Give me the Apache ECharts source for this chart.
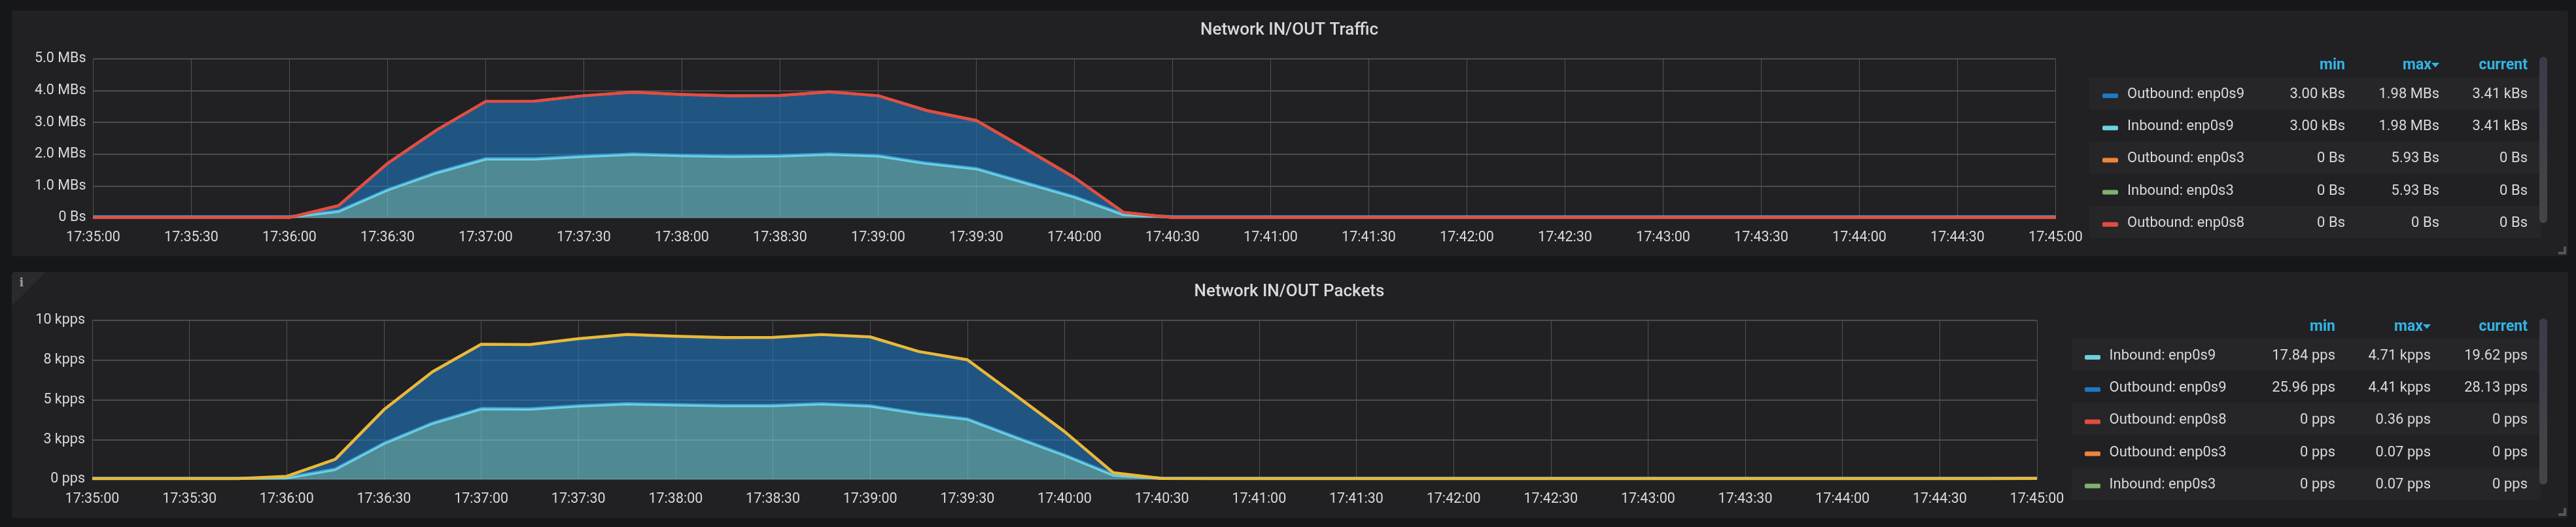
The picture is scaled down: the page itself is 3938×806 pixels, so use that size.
<!DOCTYPE html>
<html><head><meta charset="utf-8">
<style>html,body{margin:0;padding:0;background:#161719}#c{width:3938px;height:806px}</style>
<script src="https://cdn.jsdelivr.net/npm/echarts@6/dist/echarts.min.js"></script>
</head><body><div id="c"></div>
<script>
const categories=["17:35:00","17:35:15","17:35:30","17:35:45","17:36:00","17:36:15","17:36:30","17:36:45","17:37:00","17:37:15","17:37:30","17:37:45","17:38:00","17:38:15","17:38:30","17:38:45","17:39:00","17:39:15","17:39:30","17:39:45","17:40:00","17:40:15","17:40:30","17:40:45","17:41:00","17:41:15","17:41:30","17:41:45","17:42:00","17:42:15","17:42:30","17:42:45","17:43:00","17:43:15","17:43:30","17:43:45","17:44:00","17:44:15","17:44:30","17:44:45","17:45:00"];
// traffic, MBs
const trafficInS9=[0.003,0.003,0.003,0.003,0.004,0.185,0.855,1.40,1.83,1.83,1.915,1.98,1.94,1.915,1.93,1.98,1.93,1.69,1.525,1.08,0.636,0.082,0.003,0.003,0.003,0.003,0.003,0.003,0.003,0.003,0.003,0.003,0.003,0.003,0.003,0.003,0.003,0.003,0.003,0.003,0.003];
const trafficOutS9=[0.003,0.003,0.003,0.003,0.004,0.195,0.855,1.36,1.83,1.84,1.925,1.97,1.94,1.925,1.92,1.98,1.91,1.68,1.535,1.09,0.629,0.088,0.003,0.003,0.003,0.003,0.003,0.003,0.003,0.003,0.003,0.003,0.003,0.003,0.003,0.003,0.003,0.003,0.003,0.003,0.003];
const trafficOutS3=[0,0,0,0,0,0,0,0,0,0,0,0,0,0,0,0,0,0,0,0,0,0,0,0,0,0,0,0,0,0,0,0,0,0,0,0,0,0,0,0,0];
const trafficInS3=[0,0,0,0,0,0,0,0,0,0,0,0,0,0,0,0,0,0,0,0,0,0,0,0,0,0,0,0,0,0,0,0,0,0,0,0,0,0,0,0,0];
const trafficOutS8=[0,0,0,0,0,0,0,0,0,0,0,0,0,0,0,0,0,0,0,0,0,0,0,0,0,0,0,0,0,0,0,0,0,0,0,0,0,0,0,0,0];
// packets, kpps
const packetsInS9=[0.018,0.018,0.018,0.018,0.05,0.59,2.22,3.49,4.40,4.38,4.58,4.71,4.65,4.60,4.60,4.71,4.58,4.10,3.75,2.60,1.48,0.23,0.02,0.018,0.018,0.018,0.018,0.018,0.018,0.018,0.018,0.018,0.018,0.018,0.018,0.018,0.018,0.018,0.018,0.018,0.02];
const packetsOutS9=[0.026,0.026,0.026,0.026,0.14,0.67,2.16,3.28,4.10,4.10,4.27,4.41,4.35,4.32,4.33,4.40,4.38,3.94,3.77,2.67,1.52,0.18,0.035,0.026,0.026,0.026,0.026,0.026,0.026,0.026,0.026,0.026,0.026,0.026,0.026,0.026,0.026,0.026,0.026,0.026,0.028];
const packetsOutS8=[0,0,0,0,0,0,0,0,0,0,0,0,0,0,0,0,0,0,0,0,0,0,0,0,0,0,0,0,0,0,0,0,0,0,0,0,0,0,0,0,0];
const packetsOutS3=[0,0,0,0,0,0,0,0,0,0,0,0,0,0,0,0,0,0,0,0,0,0,0,0,0,0,0,0,0,0,0,0,0,0,0,0,0,0,0,0,0];
const packetsInS3=[0,0,0,0,0,0,0,0,0,0,0,0,0,0,0,0,0,0,0,0,0,0,0,0,0,0,0,0,0,0,0,0,0,0,0,0,0,0,0,0,0];
const packetsInS8=[0,0,0,0,0,0,0,0,0,0,0,0,0,0,0,0,0,0,0,0,0,0,0,0,0,0,0,0,0,0,0,0,0,0,0,0,0,0,0,0,0];
const trafficTicks={0:"0 Bs",1:"1.0 MBs",2:"2.0 MBs",3:"3.0 MBs",4:"4.0 MBs",5:"5.0 MBs"};
const packetTicks={0:"0 pps",2.5:"3 kpps",5:"5 kpps",7.5:"8 kpps",10:"10 kpps"};
const C={blue:"#1F78C1",cyan:"#6ED0E0",orange:"#EF843C",green:"#7EB26D",red:"#E24D42",yellow:"#EAB839"};
const trafficRows=[["Outbound: enp0s9","3.00 kBs","1.98 MBs","3.41 kBs",C.blue],["Inbound: enp0s9","3.00 kBs","1.98 MBs","3.41 kBs",C.cyan],["Outbound: enp0s3","0 Bs","5.93 Bs","0 Bs",C.orange],["Inbound: enp0s3","0 Bs","5.93 Bs","0 Bs",C.green],["Outbound: enp0s8","0 Bs","0 Bs","0 Bs",C.red]];
const packetRows=[["Inbound: enp0s9","17.84 pps","4.71 kpps","19.62 pps",C.cyan],["Outbound: enp0s9","25.96 pps","4.41 kpps","28.13 pps",C.blue],["Outbound: enp0s8","0 pps","0.36 pps","0 pps",C.red],["Outbound: enp0s3","0 pps","0.07 pps","0 pps",C.orange],["Inbound: enp0s3","0 pps","0.07 pps","0 pps",C.green]];

const FONT="Roboto";
const alpha=(h,a)=>{const n=parseInt(h.slice(1),16);return `rgba(${n>>16},${(n>>8)&255},${n&255},${a})`};
function ser(name,data,color,ax,stack,lw,fill,edge,edgeY){
  return {name,type:'line',data,xAxisIndex:ax,yAxisIndex:ax,stack,symbol:'none',clip:false,silent:true,animation:false,
    lineStyle:Object.assign({color,width:lw,join:'round',opacity:1},edge?{shadowColor:edge,shadowBlur:0,shadowOffsetY:edgeY}:{}),itemStyle:{color},
    areaStyle:fill?{color:alpha(color,0.6),origin:'start',opacity:1}:undefined};
}
function table(top,rows,rowL,swL,nameL,minR,maxR){
  const els=[];const rowH=49.2,y0=118,rowR=3884;
  const T=(x,y,text,align,fill,weight,size)=>({type:'text',x,y,style:{text,fill,align,verticalAlign:'middle',font:`${weight||400} ${size||22}px ${FONT}`}});
  els.push(T(minR,top+100,'min','right','#33B5E5',700,23));
  els.push(T(maxR-12,top+100,'max','right','#33B5E5',700,23));
  els.push({type:'polygon',shape:{points:[[maxR-12,top+96],[maxR,top+96],[maxR-6,top+103]]},style:{fill:'#33B5E5'}});
  els.push(T(3864,top+100,'current','right','#33B5E5',700,23));
  rows.forEach((r,i)=>{
    const y=top+y0+i*rowH;
    if(i%2==0) els.push({type:'rect',shape:{x:rowL,y,width:rowR-rowL,height:rowH},style:{fill:'#262628'}});
    els.push({type:'rect',shape:{x:swL,y:y+25,width:24,height:7,r:2},style:{fill:r[4]}});
    const c=y+26.5;
    els.push(T(nameL,c,r[0],'left','#D8D9DA'));
    els.push(T(minR,c,r[1],'right','#D8D9DA'));
    els.push(T(maxR,c,r[2],'right','#D8D9DA'));
    els.push(T(3864,c,r[3],'right','#D8D9DA'));
  });
  els.push({type:'rect',shape:{x:3882,y:top+87,width:12,height:254,r:6},style:{fill:{type:'linear',x:0,y:0,x2:0,y2:1,colorStops:[{offset:0,color:'#3b3b4b'},{offset:1,color:'#454547'}]}}});
  els.push({type:'polyline',shape:{points:[[3921,top+377],[3921,top+387],[3911,top+387]]},style:{stroke:'#55555a',lineWidth:4,fill:null}});
  return els;
}
const panel=(y)=>({type:'rect',z:-10,shape:{x:18,y,width:3908,height:376,r:4},style:{fill:'#212124'}});
const xAxis=(g)=>({type:'category',gridIndex:g,data:categories,boundaryGap:false,
  axisLine:{show:true,lineStyle:{color:'#4a4a4c',width:2}},axisTick:{show:false},
  axisLabel:{interval:1,color:'#D8D9DA',fontFamily:FONT,fontSize:21.5,margin:20,showMinLabel:true,showMaxLabel:true,hideOverlap:false},
  splitLine:{show:true,interval:1,lineStyle:{color:'#525254',width:1}}});
const yAxis=(g,max,interval,ticks)=>({type:'value',gridIndex:g,min:0,max,interval,
  axisLine:{show:false},axisTick:{show:false},
  axisLabel:{color:'#D8D9DA',fontFamily:FONT,fontSize:21.5,margin:11,formatter:v=>ticks[v]},
  splitLine:{show:true,lineStyle:{color:'#4c4c4e',width:2}}});
const titleStyle={color:'#D8D9DA',fontFamily:FONT,fontWeight:500,fontSize:26};
const option={backgroundColor:'#161719',animation:false,
  title:[
    {text:'Network IN/OUT Traffic',left:1966,top:28,textAlign:'center',textStyle:titleStyle},
    {text:'Network IN/OUT Packets',left:1966,top:428,textAlign:'center',textStyle:titleStyle}],
  grid:[{left:142.5,top:90,width:3000,height:243},{left:141,top:490,width:2973,height:243}],
  xAxis:[xAxis(0),xAxis(1)],
  yAxis:[yAxis(0,5,1,trafficTicks),yAxis(1,10,2.5,packetTicks)],
  series:[
    ser('Inbound: enp0s9',trafficInS9,C.cyan,0,'a',3,true,'#3c9fd6',-2),
    ser('Outbound: enp0s9',trafficOutS9,C.blue,0,'a',3,true),
    ser('Outbound: enp0s3',trafficOutS3,C.orange,0,'a',4,false),
    ser('Inbound: enp0s3',trafficInS3,C.green,0,'a',3,false),
    ser('Outbound: enp0s8',trafficOutS8,C.red,0,'a',4.5,false),
    ser('Inbound: enp0s9',packetsInS9,C.cyan,1,'b',3,true,'#3c9fd6',-2),
    ser('Outbound: enp0s9',packetsOutS9,C.blue,1,'b',3,true),
    ser('Outbound: enp0s8',packetsOutS8,C.red,1,'b',3,false),
    ser('Outbound: enp0s3',packetsOutS3,C.orange,1,'b',3,false),
    ser('Inbound: enp0s3',packetsInS3,C.green,1,'b',3,false),
    ser('Inbound: enp0s8',packetsInS8,C.yellow,1,'b',4.5,false)
  ],
  graphic:{elements:[panel(16),panel(416),
    {type:'polygon',z:-9,shape:{points:[[18,420],[22,416],[70,416],[18,468]]},style:{fill:'#2a2a2e'}},
    {type:'text',x:33,y:433,style:{text:'i',fill:'#9a9a9c',align:'center',verticalAlign:'middle',font:'700 18px "DejaVu Serif"'}},
    ...table(0,trafficRows,3194,3214,3252,3585,3729),
    ...table(400,packetRows,3167,3187,3224.5,3570,3716)]}
};
echarts.init(document.getElementById('c'),null,{renderer:'canvas'}).setOption(option);
</script></body></html>
